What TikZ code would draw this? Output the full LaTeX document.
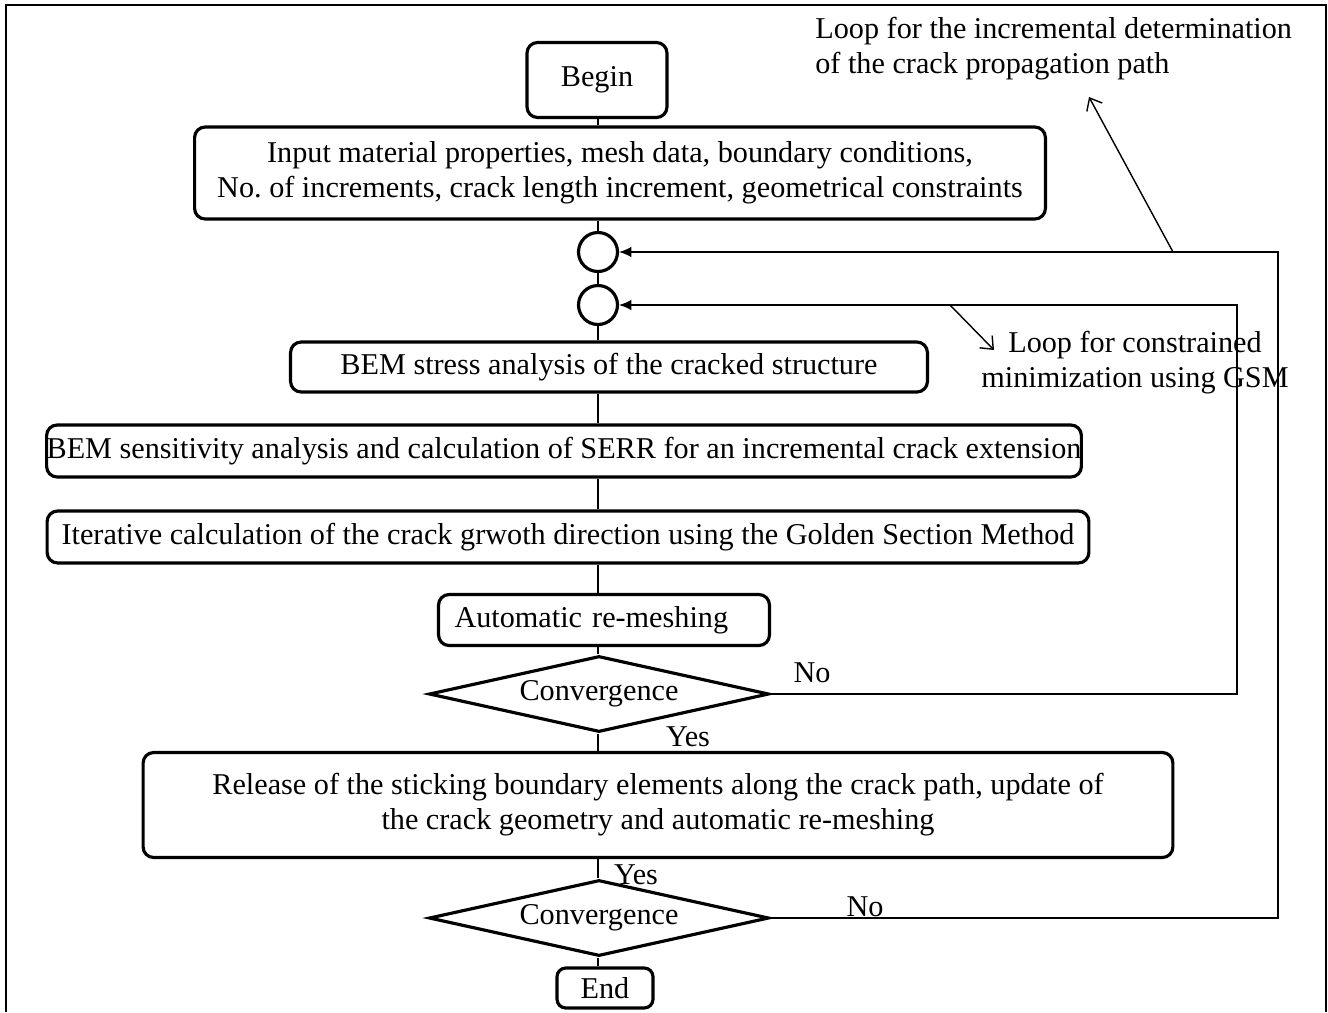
\documentclass[tikz,border=0pt]{standalone}
\usepackage{fontspec}
\setmainfont{Liberation Serif}
\usetikzlibrary{shapes.geometric,arrows.meta}

\begin{document}
\begin{tikzpicture}[x=0.02cm, y=-0.02cm,
    every node/.style={font=\fontsize{17.2}{20}\selectfont},
    box/.style={draw, line width=1.8pt, rounded corners=6pt, inner sep=0pt, align=center},
    dec/.style={draw, diamond, line width=1.8pt, inner sep=0pt, aspect=4.5, minimum width=6.8cm, minimum height=1.52cm},
    joint/.style={draw, circle, line width=1.8pt, minimum size=0.78cm, inner sep=0pt},
    link/.style={line width=0.6pt},
    back/.style={line width=0.8pt, -{Latex[length=7pt,width=6pt]}},
    note/.style={line width=0.8pt, -{Straight Barb[length=6pt,width=10pt]}}]
                    \useasboundingbox (0,0) rectangle (1328,1012);
                    \draw[line width=1pt] (6,1012) -- (6,5) -- (1326,5) -- (1326,1012);

                    \node[box, minimum width=2.8cm, minimum height=1.5cm] (begin) at (597,80) {Begin};
                    \node[box, minimum width=17.02cm, minimum height=1.84cm] (input) at (620,173) {Input material properties, mesh data, boundary conditions,\\No.\ of increments, crack length increment, geometrical constraints};
                    \node[joint] (c1) at (598,252) {};
                    \node[joint] (c2) at (598,305) {};
                    \node[box, minimum width=12.74cm, minimum height=1cm] (stress) at (609,367) {BEM stress analysis of the cracked structure};
                    \node[box, minimum width=20.7cm, minimum height=1.04cm] (sens) at (564,451) {BEM sensitivity analysis and calculation of SERR for an incremental crack extension};
                    \node[box, minimum width=20.84cm, minimum height=1.04cm] (iter) at (568,537) {Iterative calculation of the crack grwoth direction using the Golden Section Method};
                    \node[box, minimum width=6.62cm, minimum height=1.02cm, text width=5.98cm, align=left] (remesh) at (604,620) {Automatic re-meshing};
                    \node[dec] (conv1) at (599,694) {Convergence};
                    \node[box, minimum width=20.6cm, minimum height=2.1cm] (release) at (658,805) {Release of the sticking boundary elements along the crack path, update of\\the crack geometry and automatic re-meshing};
                    \node[dec] (conv2) at (599,918) {Convergence};
                    \node[box, minimum width=1.92cm, minimum height=0.8cm, rounded corners=5pt] (end) at (605,988) {End};

                    \coordinate (spine) at (598,0);
                    \foreach \a/\b in {begin/input, input/c1, c1/c2, c2/stress, stress/sens, sens/iter, iter/remesh, remesh/conv1, conv1/release, release/conv2, conv2/end} {
                        \draw[link] (\a.south -| spine) -- (\b.north -| spine);
                    }

                    \coordinate (inner) at (1237,0);
                    \coordinate (outer) at (1278,0);
                    \draw[back] (conv1.east) -- (conv1.east -| inner) |- (c2.east);
                    \draw[back] (conv2.east) -- (conv2.east -| outer) |- (c1.east);

                    \node (no1) at (812,673) {No};
                    \node (yes1) at (688,737) {Yes};
                    \node (yes2) at (636,875) {Yes};
                    \node (no2) at (865,907) {No};

                    \coordinate (t1) at (1173,252);
                    \coordinate (h1) at (1089,97);
                    \draw[note] (t1) -- (h1);
                    \node[align=left, anchor=west, inner sep=0pt] (loopout) at (815,49) {Loop for the incremental determination\\of the crack propagation path};

                    \coordinate (t2) at (950,305);
                    \coordinate (h2) at (994,350);
                    \draw[note] (t2) -- (h2);
                    \node[align=center, inner sep=0pt] (loopin) at (1135,363) {Loop for constrained\\minimization using GSM};
                \end{tikzpicture}
\end{document}
